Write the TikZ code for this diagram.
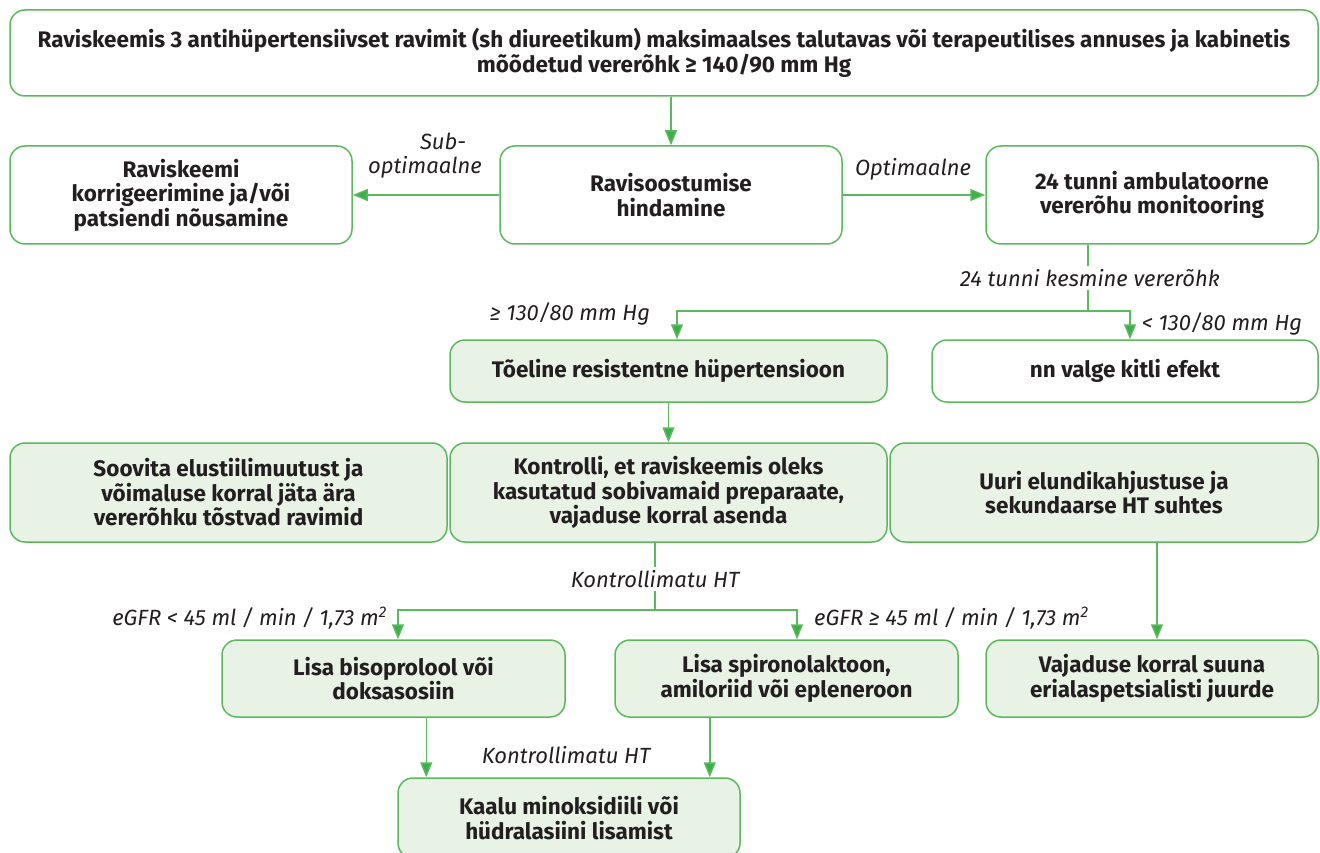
\documentclass[tikz,border=0pt]{standalone}
\usepackage{fontspec}
\setmainfont{Fira Sans}
\usetikzlibrary{arrows.meta,calc}
\definecolor{gline}{HTML}{5CB85C}
\definecolor{garrow}{HTML}{3DAE49}
\definecolor{gfill}{HTML}{E8F3E5}
\definecolor{txt}{HTML}{231F20}
\begin{document}
\begin{tikzpicture}[x=1pt,y=-1pt,
  box/.style={draw=gline,line width=1.5pt,rounded corners=15pt,inner sep=0pt,
    align=center,text=txt,font=\fontsize{22.5}{24.5}\selectfont\bfseries},
  gbox/.style={box,fill=gfill},
  lab/.style={text=txt,font=\fontsize{22}{25}\selectfont\itshape,inner sep=1pt},
  wlab/.style={lab,fill=white,inner sep=3pt},
  conn/.style={draw=gline,line width=1.5pt},
  arr/.style={conn,-{Triangle[width=12pt,length=15pt,fill=garrow]}}]
\useasboundingbox (0,0) rectangle (1320,853);
\clip (0,0) rectangle (1320,853);
% boxes
\node[box,minimum width=1308,minimum height=86] (top) at (664,53)
  {Raviskeemis 3 antihüpertensiivset ravimit (sh diureetikum) maksimaalses talutavas või terapeutilises annuses ja kabinetis\\mõõdetud vererõhk ≥ 140/90 mm Hg};
\node[box,minimum width=342,minimum height=98] (A) at (181,195)
  {Raviskeemi\\korrigeerimine ja/või\\patsiendi nõusamine};
\node[box,minimum width=342,minimum height=98] (B) at (671,195)
  {Ravisoostumise\\hindamine};
\node[box,minimum width=332,minimum height=98] (C) at (1152,195)
  {24 tunni ambulatoorne\\vererõhu monitooring};
\node[gbox,minimum width=437,minimum height=62] (T) at (668.5,371)
  {Tõeline resistentne hüpertensioon};
\node[box,minimum width=386,minimum height=62] (W) at (1125,371)
  {nn valge kitli efekt};
\node[gbox,minimum width=437,minimum height=99] (D) at (228.5,492.5)
  {Soovita elustiilimuutust ja\\võimaluse korral jäta ära\\vererõhku tõstvad ravimid};
\node[gbox,minimum width=437,minimum height=99] (E) at (668.5,492.5)
  {Kontrolli, et raviskeemis oleks\\kasutatud sobivamaid preparaate,\\vajaduse korral asenda};
\node[gbox,minimum width=428,minimum height=99] (F) at (1104,492.5)
  {Uuri elundikahjustuse ja\\sekundaarse HT suhtes};
\node[gbox,minimum width=343,minimum height=77] (G) at (393.5,678.5)
  {Lisa bisoprolool või\\doksasosiin};
\node[gbox,minimum width=343,minimum height=77] (H) at (786.5,678.5)
  {Lisa spironolaktoon,\\amiloriid või epleneroon};
\node[gbox,minimum width=332,minimum height=77] (I) at (1152,678.5)
  {Vajaduse korral suuna\\erialaspetsialisti juurde};
\node[gbox,minimum width=342,minimum height=80] (J) at (569,818)
  {Kaalu minoksidiili või\\hüdralasiini lisamist};
% connectors
\draw[arr] (top.south -| B.north) -- (B.north);
\draw[arr] (B.west) -- (A.east);
\draw[arr] (B.east) -- (C.west);
\coordinate (c1) at (1088,311);
\draw[conn] (C.south -| c1) -- (c1);
\draw[arr] (c1) -| ([xshift=8.5pt]T.north);
\draw[arr] (c1) -| ([xshift=5pt]W.north);
\draw[arr] (T.south) -- (E.north);
\coordinate (k1) at (655,610);
\draw[conn] (E.south -| k1) -- (k1);
\draw[arr] (k1) -| ([xshift=4.5pt]G.north);
\draw[arr] (k1) -| ([xshift=10.5pt]H.north);
\draw[arr] (F.south -| I.north) ++(5,0) coordinate (f1) (F.south -| f1) -- ([xshift=5pt]I.north);
\draw[arr] (G.south -| J.north west) ++(29,0) coordinate (g1) (G.south -| g1) -- ([xshift=29pt]J.north west);
\draw[arr] (H.south -| J.north east) ++(-31,0) coordinate (h1) (H.south -| h1) -- ([xshift=-31pt]J.north east);
% labels
\node[lab] (lsub) at (443,141) {Sub-};
\node[lab] (lsubo) at (425,167) {optimaalne};
\node[lab] (lopt) at (913,169) {Optimaalne};
\node[wlab] (l24) at (1090,278) {24 tunni kesmine vererõhk};
\node[lab] (lge) at (570,314) {≥ 130/80 mm Hg};
\node[lab] (llt) at (1222,324) {< 130/80 mm Hg};
\node[wlab] (lk1) at (655,579) {Kontrollimatu HT};
\node[lab,anchor=east] (le1) at (388,618) {eGFR < 45 ml / min / 1,73 m\textsuperscript{2}};
\node[lab,anchor=west] (le2) at (813,618) {eGFR ≥ 45 ml / min / 1,73 m\textsuperscript{2}};
\node[lab] (lk2) at (566,755) {Kontrollimatu HT};
\end{tikzpicture}
\end{document}
